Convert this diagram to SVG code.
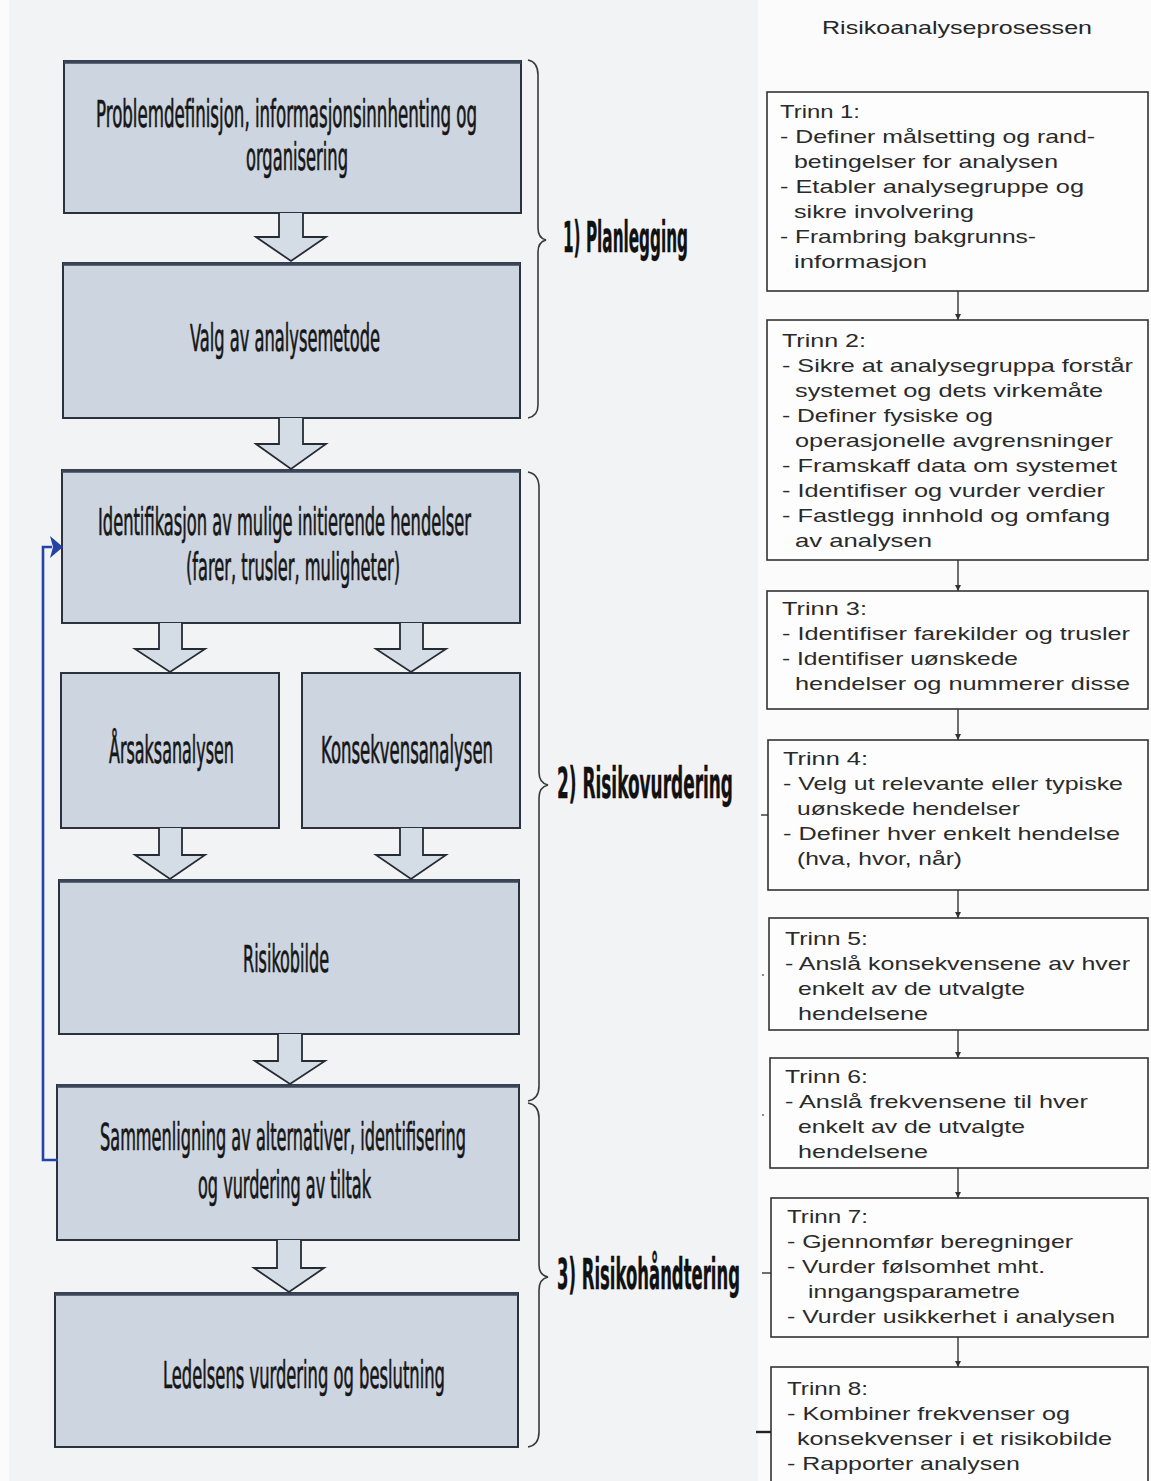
<svg xmlns="http://www.w3.org/2000/svg" width="1151" height="1481" viewBox="0 0 1151 1481">
  <defs>
    <style>
      .box { fill: #ccd5e0; stroke: #2b323d; stroke-width: 2; }
      .boxtop { stroke: #3a4658; stroke-width: 3.5; }
      .lbl { font-family: "Liberation Sans Narrow", "DejaVu Sans Condensed", "Liberation Sans", sans-serif; font-size: 37px; fill: #161616; stroke: #161616; stroke-width: 0.7; }
      .phase { font-family: "Liberation Sans Narrow", "DejaVu Sans Condensed", "Liberation Sans", sans-serif; font-size: 42px; font-weight: bold; fill: #111; stroke: #111; stroke-width: 0.4; }
      .blk { fill: #d4dce5; stroke: #262b33; stroke-width: 1.8; stroke-linejoin: miter; }
      .brace { fill: none; stroke: #3a3a3a; stroke-width: 1.6; }
      .step { fill: #fdfdfd; stroke: #333; stroke-width: 1.6; }
      .st { font-family: "Liberation Sans", Arial, sans-serif; font-size: 18.5px; fill: #2a2a2a; }
      .title { font-family: "Liberation Sans", Arial, sans-serif; font-size: 19px; fill: #262626; }
      .thin { stroke: #333; stroke-width: 1.4; fill: none; }
      .feedback { fill: none; stroke: #2443a6; stroke-width: 2.6; }
    </style>
    <marker id="tri" viewBox="0 0 10 10" refX="10" refY="5" markerWidth="6" markerHeight="6" markerUnits="userSpaceOnUse" orient="auto">
      <path d="M0,0 L10,5 L0,10 z" fill="#333"/>
    </marker>
  </defs>

  <!-- page background -->
  <rect x="0" y="0" width="1151" height="1481" fill="#fbfbfb"/>
  <rect x="9" y="0" width="749" height="1481" fill="#f2f3f5"/>

  <!-- left flow: process boxes -->
  <g id="box-problemdefinisjon">
    <rect class="box" x="64" y="61" width="457" height="152"/>
    <line class="boxtop" x1="64" y1="62" x2="521" y2="62"/>
    <text class="lbl" x="96" y="127" textLength="381" lengthAdjust="spacingAndGlyphs">Problemdefinisjon, informasjonsinnhenting og</text>
    <text class="lbl" x="246" y="170" textLength="102" lengthAdjust="spacingAndGlyphs">organisering</text>
  </g>
  <g id="box-valg">
    <rect class="box" x="63" y="263" width="457" height="155"/>
    <line class="boxtop" x1="63" y1="264" x2="520" y2="264"/>
    <text class="lbl" x="190" y="351" textLength="190" lengthAdjust="spacingAndGlyphs">Valg av analysemetode</text>
  </g>
  <g id="box-identifikasjon">
    <rect class="box" x="62" y="470" width="458" height="153"/>
    <line class="boxtop" x1="62" y1="471" x2="520" y2="471"/>
    <text class="lbl" x="98" y="535" textLength="373" lengthAdjust="spacingAndGlyphs">Identifikasjon av mulige initierende hendelser</text>
    <text class="lbl" x="186" y="580" textLength="214" lengthAdjust="spacingAndGlyphs">(farer, trusler, muligheter)</text>
  </g>
  <g id="box-arsak">
    <rect class="box" x="61" y="673" width="218" height="155"/>
    <text class="lbl" x="109" y="763" textLength="125" lengthAdjust="spacingAndGlyphs">Årsaksanalysen</text>
  </g>
  <g id="box-konsekvens">
    <rect class="box" x="302" y="673" width="218" height="155"/>
    <text class="lbl" x="321" y="763" textLength="172" lengthAdjust="spacingAndGlyphs">Konsekvensanalysen</text>
  </g>
  <g id="box-risikobilde">
    <rect class="box" x="59" y="880" width="460" height="154"/>
    <line class="boxtop" x1="59" y1="881" x2="519" y2="881"/>
    <text class="lbl" x="243" y="972" textLength="86" lengthAdjust="spacingAndGlyphs">Risikobilde</text>
  </g>
  <g id="box-sammenligning">
    <rect class="box" x="57" y="1085" width="462" height="155"/>
    <line class="boxtop" x1="57" y1="1086" x2="519" y2="1086"/>
    <text class="lbl" x="100" y="1150" textLength="366" lengthAdjust="spacingAndGlyphs">Sammenligning av alternativer, identifisering</text>
    <text class="lbl" x="198" y="1198" textLength="173" lengthAdjust="spacingAndGlyphs">og vurdering av tiltak</text>
  </g>
  <g id="box-ledelsens">
    <rect class="box" x="55" y="1293" width="463" height="154"/>
    <line class="boxtop" x1="55" y1="1294" x2="518" y2="1294"/>
    <text class="lbl" x="163" y="1388" textLength="282" lengthAdjust="spacingAndGlyphs">Ledelsens vurdering og beslutning</text>
  </g>

  <!-- phase braces and labels -->
  <g id="phase-planlegging">
    <path class="brace" d="M528 60 Q538 62 538 75 L538 228 Q538 238 546 240 Q538 242 538 252 L538 405 Q538 416 528 418"/>
    <text class="phase" x="563" y="252" textLength="125" lengthAdjust="spacingAndGlyphs">1) Planlegging</text>
  </g>
  <g id="phase-risikovurdering">
    <path class="brace" d="M528 472 Q539 474 539 488 L539 772 Q539 783 548 785 Q539 787 539 798 L539 1086 Q539 1099 528 1101"/>
    <text class="phase" x="557" y="798" textLength="176" lengthAdjust="spacingAndGlyphs">2) Risikovurdering</text>
  </g>
  <g id="phase-risikohandtering">
    <path class="brace" d="M528 1103 Q539 1105 539 1118 L539 1265 Q539 1275 548 1277 Q539 1279 539 1290 L539 1432 Q539 1445 528 1447"/>
    <text class="phase" x="557" y="1289" textLength="183" lengthAdjust="spacingAndGlyphs">3) Risikohåndtering</text>
  </g>

  <!-- right column: step boxes -->
  <text class="title" x="822" y="34" textLength="270" lengthAdjust="spacingAndGlyphs">Risikoanalyseprosessen</text>

  <g id="trinn-1">
    <rect class="step" x="767" y="92" width="381" height="199"/>
    <text class="st" x="780" y="118" textLength="80" lengthAdjust="spacingAndGlyphs">Trinn 1:</text>
    <text class="st" x="780" y="143" textLength="315" lengthAdjust="spacingAndGlyphs">- Definer målsetting og rand-</text>
    <text class="st" x="794" y="168" textLength="264" lengthAdjust="spacingAndGlyphs">betingelser for analysen</text>
    <text class="st" x="780" y="193" textLength="304" lengthAdjust="spacingAndGlyphs">- Etabler analysegruppe og</text>
    <text class="st" x="794" y="218" textLength="180" lengthAdjust="spacingAndGlyphs">sikre involvering</text>
    <text class="st" x="780" y="243" textLength="256" lengthAdjust="spacingAndGlyphs">- Frambring bakgrunns-</text>
    <text class="st" x="794" y="268" textLength="133" lengthAdjust="spacingAndGlyphs">informasjon</text>
  </g>
  <g id="trinn-2">
    <rect class="step" x="767" y="320" width="381" height="240"/>
    <text class="st" x="782" y="347" textLength="84" lengthAdjust="spacingAndGlyphs">Trinn 2:</text>
    <text class="st" x="782" y="372" textLength="351" lengthAdjust="spacingAndGlyphs">- Sikre at analysegruppa forstår</text>
    <text class="st" x="795" y="397" textLength="308" lengthAdjust="spacingAndGlyphs">systemet og dets virkemåte</text>
    <text class="st" x="782" y="422" textLength="211" lengthAdjust="spacingAndGlyphs">- Definer fysiske og</text>
    <text class="st" x="795" y="447" textLength="318" lengthAdjust="spacingAndGlyphs">operasjonelle avgrensninger</text>
    <text class="st" x="782" y="472" textLength="335" lengthAdjust="spacingAndGlyphs">- Framskaff data om systemet</text>
    <text class="st" x="782" y="497" textLength="323" lengthAdjust="spacingAndGlyphs">- Identifiser og vurder verdier</text>
    <text class="st" x="782" y="522" textLength="328" lengthAdjust="spacingAndGlyphs">- Fastlegg innhold og omfang</text>
    <text class="st" x="795" y="547" textLength="137" lengthAdjust="spacingAndGlyphs">av analysen</text>
  </g>
  <g id="trinn-3">
    <rect class="step" x="767" y="591" width="381" height="118"/>
    <text class="st" x="782" y="615" textLength="85" lengthAdjust="spacingAndGlyphs">Trinn 3:</text>
    <text class="st" x="782" y="640" textLength="348" lengthAdjust="spacingAndGlyphs">- Identifiser farekilder og trusler</text>
    <text class="st" x="782" y="665" textLength="236" lengthAdjust="spacingAndGlyphs">- Identifiser uønskede</text>
    <text class="st" x="795" y="690" textLength="335" lengthAdjust="spacingAndGlyphs">hendelser og nummerer disse</text>
  </g>
  <g id="trinn-4">
    <rect class="step" x="768" y="740" width="380" height="150"/>
    <text class="st" x="783" y="765" textLength="85" lengthAdjust="spacingAndGlyphs">Trinn 4:</text>
    <text class="st" x="783" y="790" textLength="340" lengthAdjust="spacingAndGlyphs">- Velg ut relevante eller typiske</text>
    <text class="st" x="797" y="815" textLength="223" lengthAdjust="spacingAndGlyphs">uønskede hendelser</text>
    <text class="st" x="783" y="840" textLength="337" lengthAdjust="spacingAndGlyphs">- Definer hver enkelt hendelse</text>
    <text class="st" x="797" y="865" textLength="165" lengthAdjust="spacingAndGlyphs">(hva, hvor, når)</text>
  </g>
  <g id="trinn-5">
    <rect class="step" x="769" y="918" width="379" height="112"/>
    <text class="st" x="785" y="945" textLength="83" lengthAdjust="spacingAndGlyphs">Trinn 5:</text>
    <text class="st" x="785" y="970" textLength="345" lengthAdjust="spacingAndGlyphs">- Anslå konsekvensene av hver</text>
    <text class="st" x="798" y="995" textLength="227" lengthAdjust="spacingAndGlyphs">enkelt av de utvalgte</text>
    <text class="st" x="798" y="1020" textLength="130" lengthAdjust="spacingAndGlyphs">hendelsene</text>
  </g>
  <g id="trinn-6">
    <rect class="step" x="770" y="1058" width="378" height="110"/>
    <text class="st" x="785" y="1083" textLength="83" lengthAdjust="spacingAndGlyphs">Trinn 6:</text>
    <text class="st" x="785" y="1108" textLength="303" lengthAdjust="spacingAndGlyphs">- Anslå frekvensene til hver</text>
    <text class="st" x="798" y="1133" textLength="227" lengthAdjust="spacingAndGlyphs">enkelt av de utvalgte</text>
    <text class="st" x="798" y="1158" textLength="130" lengthAdjust="spacingAndGlyphs">hendelsene</text>
  </g>
  <g id="trinn-7">
    <rect class="step" x="771" y="1198" width="377" height="139"/>
    <text class="st" x="787" y="1223" textLength="81" lengthAdjust="spacingAndGlyphs">Trinn 7:</text>
    <text class="st" x="787" y="1248" textLength="286" lengthAdjust="spacingAndGlyphs">- Gjennomfør beregninger</text>
    <text class="st" x="787" y="1273" textLength="258" lengthAdjust="spacingAndGlyphs">- Vurder følsomhet mht.</text>
    <text class="st" x="808" y="1298" textLength="212" lengthAdjust="spacingAndGlyphs">inngangsparametre</text>
    <text class="st" x="787" y="1323" textLength="328" lengthAdjust="spacingAndGlyphs">- Vurder usikkerhet i analysen</text>
  </g>
  <g id="trinn-8">
    <rect class="step" x="771" y="1367" width="377" height="130"/>
    <text class="st" x="787" y="1395" textLength="81" lengthAdjust="spacingAndGlyphs">Trinn 8:</text>
    <text class="st" x="787" y="1420" textLength="283" lengthAdjust="spacingAndGlyphs">- Kombiner frekvenser og</text>
    <text class="st" x="797" y="1445" textLength="315" lengthAdjust="spacingAndGlyphs">konsekvenser i et risikobilde</text>
    <text class="st" x="787" y="1470" textLength="233" lengthAdjust="spacingAndGlyphs">- Rapporter analysen</text>
  </g>

  <!-- connectors -->
  <g id="connectors">
    <!-- block arrows between process boxes -->
    <path class="blk" d="M279 213 V237 H256 L291 261 L326 237 H303 V213"/>
    <path class="blk" d="M279 418 V444 H256 L291 469 L326 444 H303 V418"/>
    <path class="blk" d="M159 623 V649 H135 L170 672 L205 649 H182 V623"/>
    <path class="blk" d="M400 623 V649 H376 L411 672 L446 649 H423 V623"/>
    <path class="blk" d="M159 828 V855 H135 L170 879 L205 855 H182 V828"/>
    <path class="blk" d="M400 828 V855 H376 L411 879 L446 855 H423 V828"/>
    <path class="blk" d="M278 1034 V1061 H255 L290 1084 L325 1061 H302 V1034"/>
    <path class="blk" d="M277 1240 V1268 H254 L289 1292 L324 1268 H301 V1240"/>

    <!-- feedback loop back to identification -->
    <polyline class="feedback" points="58,1160 43,1160 43,547 52,547"/>
    <path d="M50 536 L63 547 L50 558 L53 547 Z" fill="#2443a6"/>

    <!-- arrows between step boxes -->
    <line class="thin" x1="958" y1="291" x2="958" y2="320" marker-end="url(#tri)"/>
    <line class="thin" x1="958" y1="560" x2="958" y2="591" marker-end="url(#tri)"/>
    <line class="thin" x1="958" y1="709" x2="958" y2="740" marker-end="url(#tri)"/>
    <line class="thin" x1="958" y1="890" x2="958" y2="918" marker-end="url(#tri)"/>
    <line class="thin" x1="958" y1="1030" x2="958" y2="1058" marker-end="url(#tri)"/>
    <line class="thin" x1="958" y1="1168" x2="958" y2="1198" marker-end="url(#tri)"/>
    <line class="thin" x1="958" y1="1337" x2="958" y2="1367" marker-end="url(#tri)"/>

    <!-- short ticks on the left of the step boxes -->
    <line class="thin" x1="761" y1="815" x2="768" y2="815"/>
    <line class="thin" x1="762" y1="1273" x2="771" y2="1273"/>
    <line x1="756" y1="1432" x2="771" y2="1432" stroke="#222" stroke-width="2.4"/>
    <circle cx="763" cy="975" r="0.9" fill="#555"/>
    <circle cx="763" cy="1115" r="0.9" fill="#555"/>
  </g>
</svg>
